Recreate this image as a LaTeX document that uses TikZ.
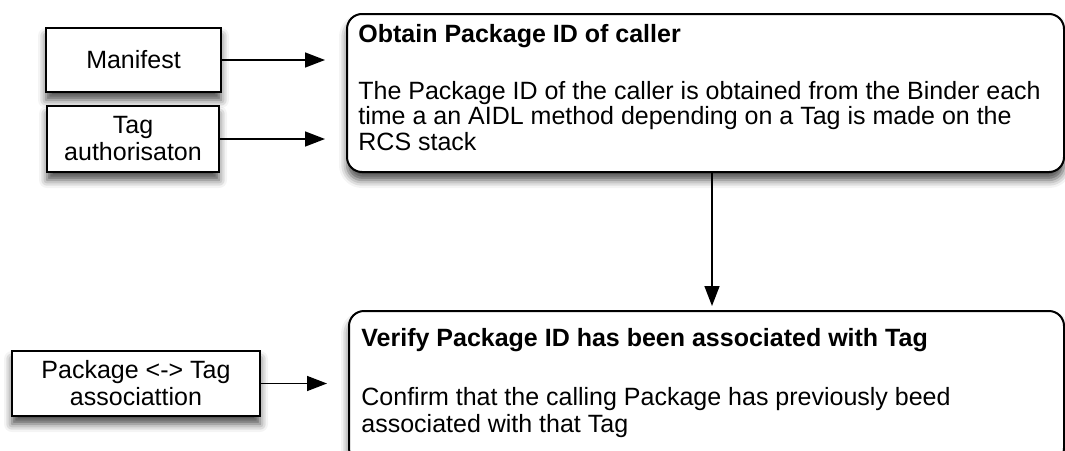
\documentclass[tikz,border=0pt]{standalone}
\usepackage{fontspec}
\setmainfont{Liberation Sans}
\usetikzlibrary{arrows.meta,shadows.blur}
\begin{document}
\begin{tikzpicture}[x=0.5pt,y=-0.5pt,
  every node/.style={font=\fontsize{12.5}{13.5}\selectfont},
  srcbox/.style={draw=black,line width=1pt,fill=white,align=center,inner sep=0pt,
    blur shadow={shadow xshift=0pt,shadow yshift=-4pt,shadow blur radius=4pt,shadow opacity=70}},
  stepbox/.style={srcbox,rounded corners=7.5pt,anchor=north west},
  textline/.style={anchor=base west,inner sep=0pt},
  titleline/.style={textline,font=\fontsize{12.5}{13.5}\selectfont\bfseries},
  flow/.style={draw=black,line width=0.75pt,-{Triangle[length=10pt,width=7.5pt]}}]
\useasboundingbox (0,0) rectangle (1065,450);

% inputs on the left
\node[srcbox,minimum width=87.5pt,minimum height=32pt] (manifest) at (133.5,60) {Manifest};
\node[srcbox,minimum width=86pt,minimum height=33pt] (tagauth) at (133,139) {Tag\\authorisaton};
\node[srcbox,minimum width=124pt,minimum height=32.5pt] (assoc) at (136,383.5) {Package <-> Tag\\associattion};

% process steps
\node[stepbox,minimum width=358.5pt,minimum height=79pt] (obtain) at (346,13) {};
\node[stepbox,minimum width=357.5pt,minimum height=76pt] (verify) at (348,310) {};

\node[titleline] (obtaintitle) at (358,42) {Obtain Package ID of caller};
\node[textline] (obtainA) at (358,99) {The Package ID of the caller is obtained from the Binder each};
\node[textline] (obtainB) at (358,124.5) {time a an AIDL method depending on a Tag is made on the};
\node[textline] (obtainC) at (358,150) {RCS stack};

\node[titleline] (verifytitle) at (361,346) {Verify Package ID has been associated with Tag};
\node[textline] (verifyA) at (361,405) {Confirm that the calling Package has previously beed};
\node[textline] (verifyB) at (361,432) {associated with that Tag};

% connectors
\draw[flow,shorten >=10.5pt] (manifest.east) -- (manifest.east -| obtain.west);
\draw[flow,shorten >=10.5pt] (tagauth.east) -- (tagauth.east -| obtain.west);
\draw[flow,shorten >=10.5pt] (assoc.east) -- (assoc.east -| verify.west);
\coordinate (drop) at ([xshift=3.25pt]obtain.south);
\draw[flow,shorten >=2pt] (drop) -- (drop |- verify.north);
\end{tikzpicture}
\end{document}
